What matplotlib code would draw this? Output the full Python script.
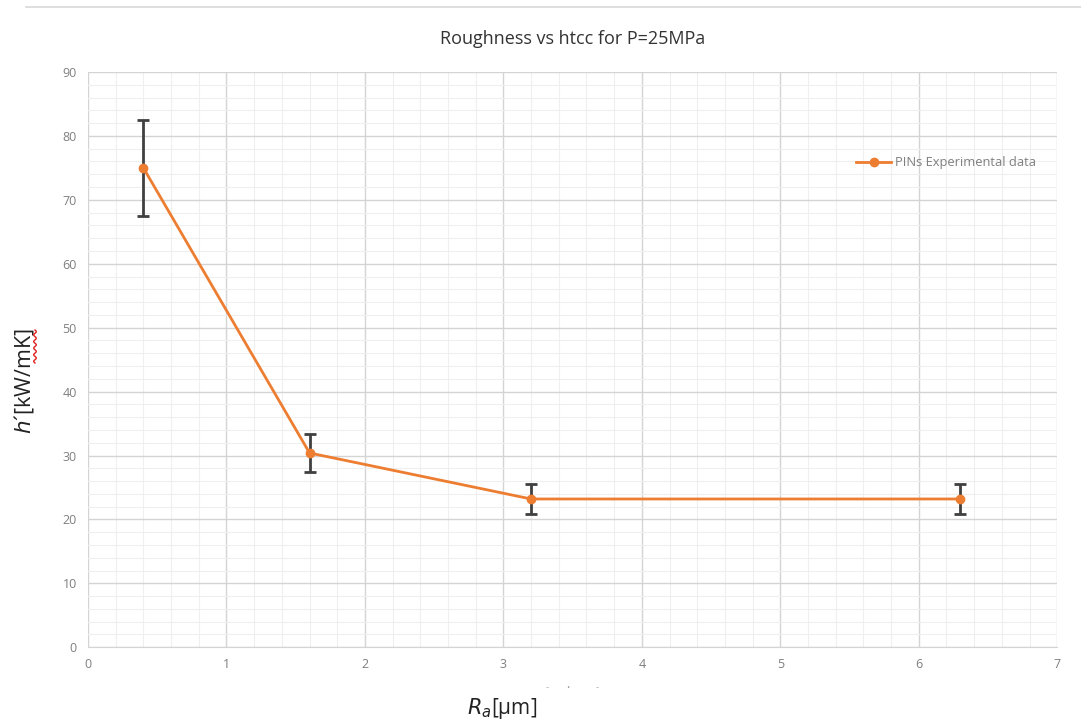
import matplotlib
matplotlib.use("Agg")
import matplotlib.pyplot as plt
import numpy as np
from matplotlib.lines import Line2D
from matplotlib.ticker import MultipleLocator

roughness = [0.4, 1.6, 3.2, 6.3]
htcc = [75.0, 30.4, 23.2, 23.2]
htcc_err = [7.5, 3.0, 2.4, 2.4]
series_label = "PINs Experimental data"
title = "Roughness vs htcc for P=25MPa"

plt.rcParams['font.family'] = ['Open Sans', 'DejaVu Sans']

fig = plt.figure(figsize=(10.81, 7.2), dpi=100)
ax = fig.add_axes([0.0814, 0.101, 0.8966, 0.799])

orange = '#ED7D31'
ax.errorbar(roughness, htcc, yerr=htcc_err, color=orange, lw=2, marker='o', ms=6,
            ecolor='#404040', elinewidth=2, capsize=4, capthick=2, zorder=3)

ax.set_xlim(0, 7)
ax.set_ylim(0, 90)
ax.xaxis.set_major_locator(MultipleLocator(1))
ax.xaxis.set_minor_locator(MultipleLocator(0.2))
ax.yaxis.set_major_locator(MultipleLocator(10))
ax.yaxis.set_minor_locator(MultipleLocator(2))
ax.grid(which='major', color='#d4d4d4', lw=1.0)
ax.grid(which='minor', color='#efefef', lw=0.8)
ax.set_axisbelow(True)
for s in ['top', 'right', 'left']:
    ax.spines[s].set_visible(False)
ax.spines['bottom'].set_color('#d4d4d4')
ax.tick_params(which='both', length=0, colors='#7f7f7f', labelsize=9, pad=8)

ax.set_title(title, fontsize=13, color='#333333', pad=20)
ax.set_xlabel(r'$R_a$[μm]', fontsize=15, color='#222222', va='center')
ax.xaxis.set_label_coords(0.427, -0.107)
ax.set_ylabel(r"$h$´[kW/mK]", fontsize=15.5, color='#222222', va='center')
ax.yaxis.set_label_coords(-0.066, 0.463)

handle = Line2D([], [], color=orange, lw=2, marker='o', ms=6)
leg = ax.legend([handle], [series_label], loc='center right',
                bbox_to_anchor=(0.99, 0.842), frameon=False,
                fontsize=9.3, handlelength=2.7, handletextpad=0.3)
for t in leg.get_texts():
    t.set_color('#7f7f7f')

# decorative elements from the source screenshot
fig.add_artist(Line2D([0.024, 1.0], [0.99, 0.99], color='#d9d9d9', lw=1.2))
yy = np.linspace(330, 363, 60)
xx = 35 + 1.3 * np.sin((yy - 330) / 33 * 2 * np.pi * 5)
fig.add_artist(Line2D(xx / 1081, 1 - yy / 720, color='#e02020', lw=1.0))
fig.text(547 / 1081, 1 - 688 / 720, "-", color='#b0b0b0', fontsize=7, ha='center', va='center')
fig.text(568 / 1081, 1 - 688 / 720, "·", color='#909090', fontsize=9, ha='center', va='center')
fig.text(597 / 1081, 1 - 688 / 720, "-", color='#b0b0b0', fontsize=7, ha='center', va='center')

fig.savefig('out.png', dpi=100, facecolor='white')
